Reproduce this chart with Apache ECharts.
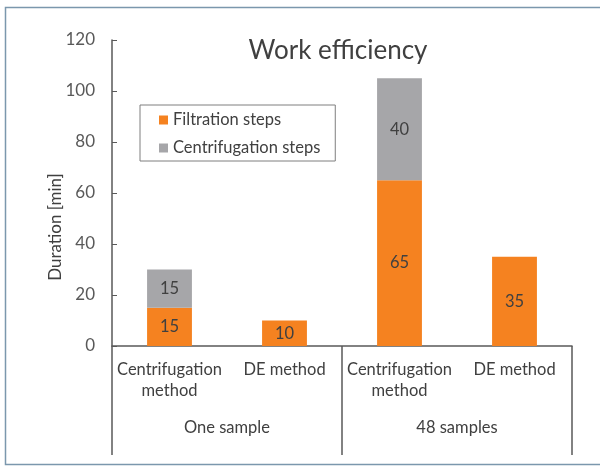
<!DOCTYPE html>
<html>
<head>
<meta charset="utf-8">
<script src="https://cdn.jsdelivr.net/npm/echarts@6/dist/echarts.min.js"></script>
<style>
html, body { margin: 0; padding: 0; background: #fff; }
#main { width: 600px; height: 466px; }
</style>
</head>
<body>
<div id="main"></div>
<script>
// categories and values
const methods = ['Centrifugation\nmethod', 'DE method', 'Centrifugation\nmethod', 'DE method'];
const groups = ['One sample', '48 samples'];
const filtration = [15, 10, 65, 35];
const centrifugation = [15, '-', 40, '-'];
const yTicks = { min: 0, max: 120, interval: 20 };

const FONT = 'Lato';
const TXT = '#404040';
const AXIS = '#595959';

let chart = echarts.init(document.getElementById('main'));
chart.setOption({
    animation: false,
    textStyle: { fontFamily: FONT },
    title: {
        text: 'Work efficiency',
        left: 333,
        textAlign: 'center',
        top: 33,
        textStyle: { fontSize: 26, fontWeight: 'normal', color: TXT, fontFamily: FONT }
    },
    graphic: [{
        type: 'rect',
        shape: { x: 5.5, y: 7.5, width: 620, height: 457 },
        style: { fill: 'none', stroke: '#7b97ad', lineWidth: 1.5 },
        silent: true
    }, {
        // y axis title, placed like the reference (a bit below the plot centre)
        type: 'text',
        x: 56,
        y: 227,
        rotation: Math.PI / 2,
        style: {
            text: 'Duration [min]',
            fontSize: 17,
            fontFamily: FONT,
            fill: TXT,
            align: 'center',
            verticalAlign: 'middle'
        },
        silent: true
    }],
    legend: {
        left: 140,
        top: 105,
        orient: 'vertical',
        itemWidth: 9,
        itemHeight: 9,
        itemGap: 10,
        padding: [6, 15, 4, 19],
        borderColor: '#7f7f7f',
        borderWidth: 1,
        icon: 'rect',
        textStyle: { fontSize: 16.5, lineHeight: 18, color: TXT, fontFamily: FONT },
        data: ['Filtration steps', 'Centrifugation steps']
    },
    grid: { left: 112, right: 28, top: 40, bottom: 120 },
    xAxis: [{
        type: 'category',
        data: methods,
        axisLine: { lineStyle: { color: AXIS, width: 1.5 } },
        axisTick: { show: false },
        axisLabel: { interval: 0, margin: 13, fontSize: 16.5, lineHeight: 21, color: TXT, fontFamily: FONT }
    }, {
        type: 'category',
        data: groups,
        position: 'bottom',
        axisLine: { show: false },
        axisTick: { show: true, length: 109, lineStyle: { color: AXIS, width: 1.5 } },
        axisLabel: { margin: 73, fontSize: 16.5, color: TXT, fontFamily: FONT }
    }],
    yAxis: {
        type: 'value',
        min: yTicks.min,
        max: yTicks.max,
        interval: yTicks.interval,
        axisLine: { show: true, lineStyle: { color: AXIS, width: 1.5 } },
        axisTick: { show: true, inside: true, length: 5, lineStyle: { color: AXIS } },
        axisLabel: { fontSize: 17, color: AXIS, margin: 17, fontFamily: FONT },
        splitLine: { show: false }
    },
    series: [{
        name: 'Filtration steps',
        type: 'bar',
        stack: 'total',
        barWidth: '39%',
        itemStyle: { color: '#f58220' },
        label: { show: true, position: 'inside', fontSize: 16.5, color: TXT, fontFamily: FONT },
        data: filtration
    }, {
        name: 'Centrifugation steps',
        type: 'bar',
        stack: 'total',
        itemStyle: { color: '#a6a6a9' },
        label: { show: true, position: 'inside', fontSize: 16.5, color: TXT, fontFamily: FONT },
        data: centrifugation
    }]
});
</script>
</body>
</html>
